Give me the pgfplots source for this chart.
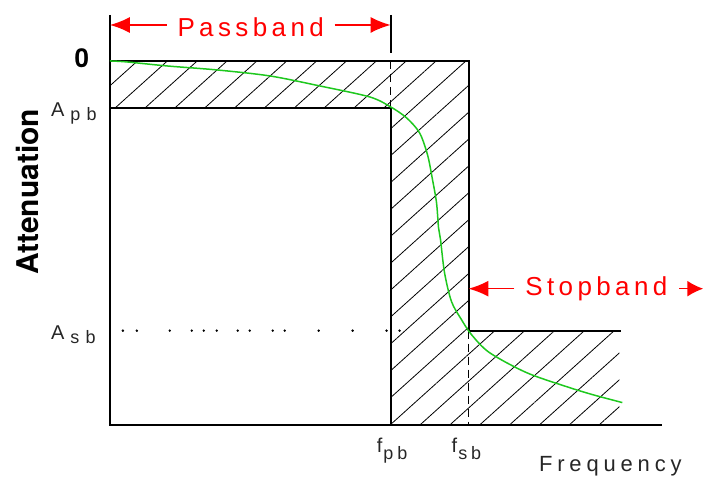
\documentclass[border=0pt]{standalone}
\usepackage{pgfplots}
\pgfplotsset{compat=1.18}
\usetikzlibrary{patterns.meta,arrows.meta}
\usepackage{fontspec}
\setmainfont{Liberation Sans}
\newfontfamily\spaced[LetterSpace=17]{Liberation Sans}
\newfontfamily\spacedb[LetterSpace=22]{Liberation Sans}
\newfontfamily\spacedc[LetterSpace=35]{Liberation Sans}
\newfontfamily\heros{TeX Gyre Heros}
\definecolor{fgreen}{RGB}{30,200,30}
\begin{document}
\begin{tikzpicture}
\begin{axis}[width=704pt,height=481pt,scale only axis,hide axis,
  xmin=0,xmax=704,ymin=0,ymax=481,y dir=reverse,clip=false]
\path (axis cs:0,0) rectangle (axis cs:704,481);
% hatched region
\addplot[draw=none, pattern={Lines[angle=42,distance=20pt,line width=0.8pt]}, pattern color=black]
  coordinates {(110,61)(469,61)(469,331)(620,331)(620,425)(391,425)(391,108)(110,108)} -- cycle;
% outlines
\addplot[black, line width=2pt] coordinates {(110,15)(110,425)(663,425)};
\addplot[black, line width=2pt] coordinates {(110,61)(469,61)(469,331)(622,331)};
\addplot[black, line width=2pt] coordinates {(110,108)(391,108)(391,425)};
\addplot[black, line width=2pt] coordinates {(391,15)(391,53)};
\addplot[black, line width=1.5pt, dash pattern=on 8pt off 5pt] coordinates {(391,61)(391,108)};
\addplot[black, line width=1.5pt, dash pattern=on 8pt off 5pt] coordinates {(469,331)(469,425)};
% A_sb dotted level
\addplot[only marks, mark=*, mark size=1pt, black] coordinates {(123,331)(137,331)(170,331)(192,331)(204,331)(217,331)(238,331)(250,331)(273,331)(285,331)(319,331)(353,331)(387,331)(400,331)};
% response curve
\addplot[fgreen, line width=1.5pt, smooth] coordinates {(110,61)(127,62)(167,66)(217,70)(270,76)(320,86)(370,97)(391,107)(407,118)(420,133)(428,155)(433,180)(437,203)(439,228)(441,240)(445,273)(452,302)(462,320)(472,335)(490,353)(527,373)(567,387)(593,395)(623,403)};
% red arrows
\addplot[red, line width=1.5pt, -{Latex[length=20pt,width=16pt]}] coordinates {(167,25)(110,25)};
\addplot[red, line width=1.5pt, -{Latex[length=20pt,width=16pt]}] coordinates {(335,25)(391,25)};
\addplot[red, line width=1.5pt, -{Latex[length=20pt,width=16pt]}] coordinates {(515,289)(469,289)};
\addplot[red, line width=1.5pt, -{Latex[length=16pt,width=16pt]}] coordinates {(680,289)(704,289)};
% texts
\node[red, anchor=base, font=\spaced\fontsize{26}{26}\selectfont] at (axis cs:251,37) {Passband};
\node[red, anchor=base, font=\spaced\fontsize{26}{26}\selectfont] at (axis cs:597,296) {Stopband};
\node[anchor=base, font=\spacedb\fontsize{22}{22}\selectfont, text=black!85] at (axis cs:611,472) {Frequency};
\node[rotate=90, font=\heros\bfseries\fontsize{30}{30}\selectfont] at (axis cs:28,192) {Attenuation};
\node[font=\heros\bfseries\fontsize{26}{26}\selectfont] at (axis cs:82,58) {0};
\node[anchor=base west, inner sep=0pt, font=\fontsize{20}{20}\selectfont, text=black!85] at (axis cs:51,117) {A\hspace{6pt}\raisebox{-4pt}{\spacedc\fontsize{18}{18}\selectfont pb}};
\node[anchor=base west, inner sep=0pt, font=\fontsize{20}{20}\selectfont, text=black!85] at (axis cs:51,340) {A\hspace{6pt}\raisebox{-4pt}{\spacedc\fontsize{18}{18}\selectfont sb}};
\node[anchor=base west, inner sep=0pt, font=\fontsize{20}{20}\selectfont, text=black!85] at (axis cs:377,453) {f\hspace{1pt}\raisebox{-7pt}{\spacedb\fontsize{18}{18}\selectfont pb}};
\node[anchor=base west, inner sep=0pt, font=\fontsize{20}{20}\selectfont, text=black!85] at (axis cs:452,453) {f\hspace{1pt}\raisebox{-7pt}{\spacedb\fontsize{18}{18}\selectfont sb}};
\end{axis}
\end{tikzpicture}
\end{document}
